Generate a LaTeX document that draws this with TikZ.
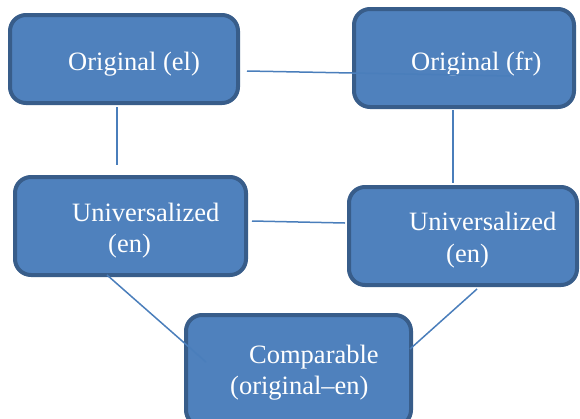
\documentclass[tikz,border=0pt]{standalone}
\usepackage{fontspec}
\setmainfont{Liberation Serif}
\usetikzlibrary{positioning}
\definecolor{boxfill}{RGB}{79, 129, 189}
\definecolor{boxline}{RGB}{56, 93, 138}
\definecolor{linkcolor}{RGB}{74, 126, 187}

\begin{document}
\begin{tikzpicture}[x=1pt, y=-1pt,
    box/.style={rectangle, draw=boxline, line width=4pt, rounded corners=16pt, fill=boxfill, inner sep=0pt},
    txt/.style={anchor=base west, inner sep=0pt, text=white, font=\fontsize{26.5}{31}\selectfont},
    link/.style={draw=linkcolor, line width=1.5pt},
]
    \clip (0, 0) rectangle (580, 418);
    \useasboundingbox (0, 0) rectangle (580, 418);

    % Boxes
    \node[box, minimum width=228pt, minimum height=88pt] (el) at (124, 59) {};
    \node[box, minimum width=220pt, minimum height=98pt] (fr) at (464, 58) {};
    \node[box, minimum width=231pt, minimum height=98pt] (unil) at (130.5, 226) {};
    \node[box, minimum width=228pt, minimum height=98pt] (unir) at (463, 236) {};
    \node[box, minimum width=225pt, minimum height=111pt] (comp) at (298.5, 370.5) {};

    % Texts
    \node[txt] (elA) at (68, 70) {Original (el)};
    \node[txt] (frA) at (411, 70) {Original (fr)};
    \node[txt] (unilA) at (72, 221) {Universalized};
    \node[txt] (unilB) at (108, 252) {(en)};
    \node[txt] (unirA) at (409, 230) {Universalized};
    \node[txt] (unirB) at (446, 262) {(en)};
    \node[txt] (compA) at (249, 363) {Comparable};
    \node[txt] (compB) at (230, 394) {(original--en)};

    % Links
    \draw[link] ([shift={(7,12)}]el.east) -- ([shift={(46,18)}]fr.center);
    \draw[link] ([shift={(-7,2)}]el.south) -- ([shift={(-13.5,-10)}]unil.north);
    \draw[link] ([shift={(-11,1)}]fr.south) -- ([shift={(-10,-2)}]unir.north);
    \draw[link] ([shift={(4,-5)}]unil.east) -- ([shift={(-2,-13)}]unir.west);
    \draw[link] ([shift={(-23.5,-2)}]unil.south) -- ([shift={(-92.5,-8.5)}]comp.center);
    \draw[link] ([shift={(14,2)}]unir.south) -- ([shift={(-3,-21.5)}]comp.east);
\end{tikzpicture}
\end{document}
